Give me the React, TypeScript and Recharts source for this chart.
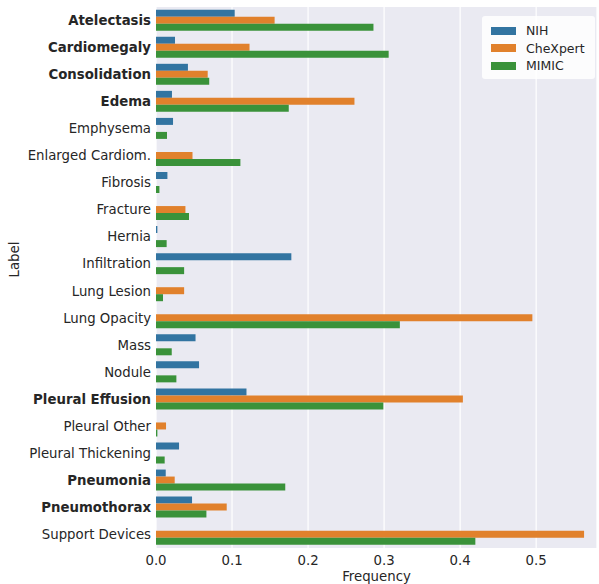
import { BarChart, Bar, XAxis, YAxis, CartesianGrid } from 'recharts';

const labels = [
  'Atelectasis', 'Cardiomegaly', 'Consolidation', 'Edema', 'Emphysema',
  'Enlarged Cardiom.', 'Fibrosis', 'Fracture', 'Hernia', 'Infiltration',
  'Lung Lesion', 'Lung Opacity', 'Mass', 'Nodule', 'Pleural Effusion',
  'Pleural Other', 'Pleural Thickening', 'Pneumonia', 'Pneumothorax', 'Support Devices',
];

// labels shared by all three datasets are printed in bold
const boldLabels = [
  'Atelectasis', 'Cardiomegaly', 'Consolidation', 'Edema',
  'Pleural Effusion', 'Pneumonia', 'Pneumothorax',
];

const nih = [
  0.1035, 0.025, 0.042, 0.021, 0.0224,
  0, 0.015, 0, 0.0018, 0.178,
  0, 0, 0.052, 0.0566, 0.119,
  0, 0.0303, 0.0128, 0.0474, 0,
];
const chexpert = [
  0.156, 0.123, 0.068, 0.261, 0,
  0.048, 0, 0.0387, 0, 0,
  0.037, 0.495, 0, 0, 0.4036,
  0.0132, 0, 0.0246, 0.093, 0.563,
];
const mimic = [
  0.286, 0.306, 0.07, 0.1746, 0.0145,
  0.111, 0.0045, 0.0434, 0.014, 0.037,
  0.0092, 0.3207, 0.0207, 0.0268, 0.299,
  0.0018, 0.0114, 0.17, 0.0663, 0.42,
];

const xTicks = [0, 0.1, 0.2, 0.3, 0.4, 0.5];

const series = [
  { key: 'NIH', color: '#3274A1' },
  { key: 'CheXpert', color: '#E1812C' },
  { key: 'MIMIC', color: '#3A923A' },
];

const data = labels.map((label, i) => ({
  label,
  NIH: nih[i],
  CheXpert: chexpert[i],
  MIMIC: mimic[i],
}));

const FONT = '"DejaVu Sans", sans-serif';
const TEXT = '#262626';
const FS = 13.3;

function LabelTick(props: any) {
  const { x, y, payload } = props;
  const bold = boldLabels.includes(payload.value);
  return (
    <text
      x={x + 3}
      y={y}
      dy={4.5}
      textAnchor="end"
      fontFamily={FONT}
      fontSize={FS}
      fontWeight={bold ? 'bold' : 'normal'}
      fill={TEXT}
    >
      {payload.value}
    </text>
  );
}

function LegendBox() {
  return (
    <div
      style={{
        position: 'absolute',
        left: 482,
        top: 16,
        width: 113,
        height: 63,
        boxSizing: 'border-box',
        background: 'rgba(255,255,255,0.85)',
        borderRadius: 3,
        padding: '6px 0 0 9px',
        fontFamily: FONT,
        fontSize: 12.5,
        color: TEXT,
      }}
    >
      {series.map((s) => (
        <div key={s.key} style={{ display: 'flex', alignItems: 'center', height: 17.5 }}>
          <div style={{ width: 25, height: 8, background: s.color, marginRight: 10 }} />
          <span>{s.key}</span>
        </div>
      ))}
    </div>
  );
}

export default function App() {
  return (
    <div style={{ position: 'absolute', left: 0, top: 0, width: 599, height: 584, background: '#fff' }}>
      <BarChart
        width={599}
        height={584}
        data={data}
        layout="vertical"
        margin={{ top: 7, right: 2, left: 0, bottom: 0 }}
        barCategoryGap="10%"
        barGap={0}
      >
        <CartesianGrid horizontal={false} stroke="#ffffff" strokeWidth={1.2} fill="#EAEAF2" />
        <XAxis
          type="number"
          domain={[0, 0.58]}
          ticks={xTicks}
          tickFormatter={(v: number) => v.toFixed(1)}
          axisLine={false}
          tickLine={false}
          height={36}
          tick={{ fontFamily: FONT, fontSize: FS, fill: TEXT }}
          label={{ value: 'Frequency', position: 'insideBottom', offset: 3, fontFamily: FONT, fontSize: FS, fill: TEXT }}
        />
        <YAxis
          type="category"
          dataKey="label"
          width={156}
          axisLine={false}
          tickLine={false}
          interval={0}
          tick={<LabelTick />}
          label={{ value: 'Label', angle: -90, position: 'insideLeft', offset: 14, fontFamily: FONT, fontSize: FS, fill: TEXT }}
        />
        {series.map((s) => (
          <Bar key={s.key} dataKey={s.key} fill={s.color} isAnimationActive={false} />
        ))}
      </BarChart>
      <LegendBox />
    </div>
  );
}
